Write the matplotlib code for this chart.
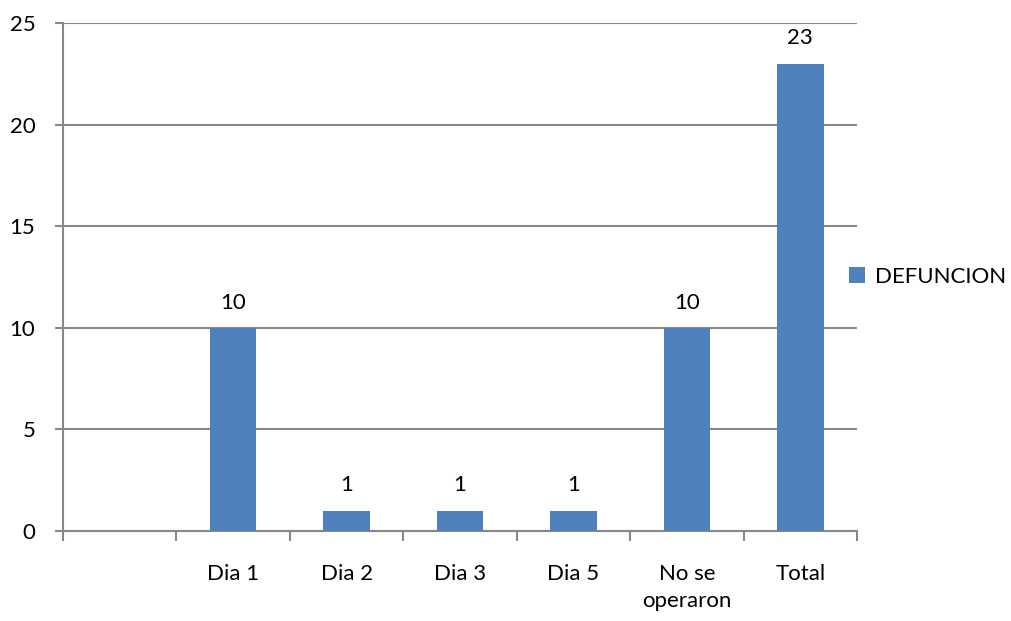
import matplotlib.pyplot as plt
import numpy as np

plt.rcParams['font.family'] = ['Lato', 'DejaVu Sans']

categories = ['', 'Dia 1', 'Dia 2', 'Dia 3', 'Dia 5', 'No se\noperaron', 'Total']
defuncion = [np.nan, 10, 1, 1, 1, 10, 23]

BAR_COLOR = '#4F81BD'
GRID_COLOR = '#888888'

fig = plt.figure(figsize=(10.12, 6.21), dpi=100)
ax = fig.add_axes([0.0623, 0.145, 0.7845, 0.818])

x = np.arange(len(categories))
bars = ax.bar(x, defuncion, width=0.41, color=BAR_COLOR, label='DEFUNCION', zorder=3)

# value labels above the bars
for xi, v in zip(x, defuncion):
    if not np.isnan(v):
        ax.text(xi, v + 0.75, f'{v:g}', ha='center', va='bottom', fontsize=16, color='black')

ax.set_xlim(-0.5, len(categories) - 0.5)
ax.set_ylim(0, 25)
ax.set_yticks([0, 5, 10, 15, 20, 25])
ax.yaxis.grid(True, color=GRID_COLOR, linewidth=1.5, zorder=0)

# tick marks between categories, labels centered under each slot
ax.set_xticks(np.arange(len(categories) + 1) - 0.5)
ax.set_xticklabels([])
ax.set_xticks(x, minor=True)
ax.set_xticklabels(categories, minor=True, fontsize=16, va='top', linespacing=1.45)
ax.tick_params(axis='x', which='minor', length=0, pad=24)
ax.tick_params(axis='x', which='major', length=7, width=1.5, color=GRID_COLOR, direction='out')
ax.tick_params(axis='y', length=6, width=1.5, color=GRID_COLOR, labelsize=16, pad=14)

for side in ['top', 'right']:
    ax.spines[side].set_visible(False)
for side in ['left', 'bottom']:
    ax.spines[side].set_color(GRID_COLOR)
    ax.spines[side].set_linewidth(1.5)

ax.legend(loc='center left', bbox_to_anchor=(0.965, 0.5), frameon=False, fontsize=16,
          handlelength=0.7, handleheight=0.7, handletextpad=0.45)

fig.savefig('out.png', dpi=100)
